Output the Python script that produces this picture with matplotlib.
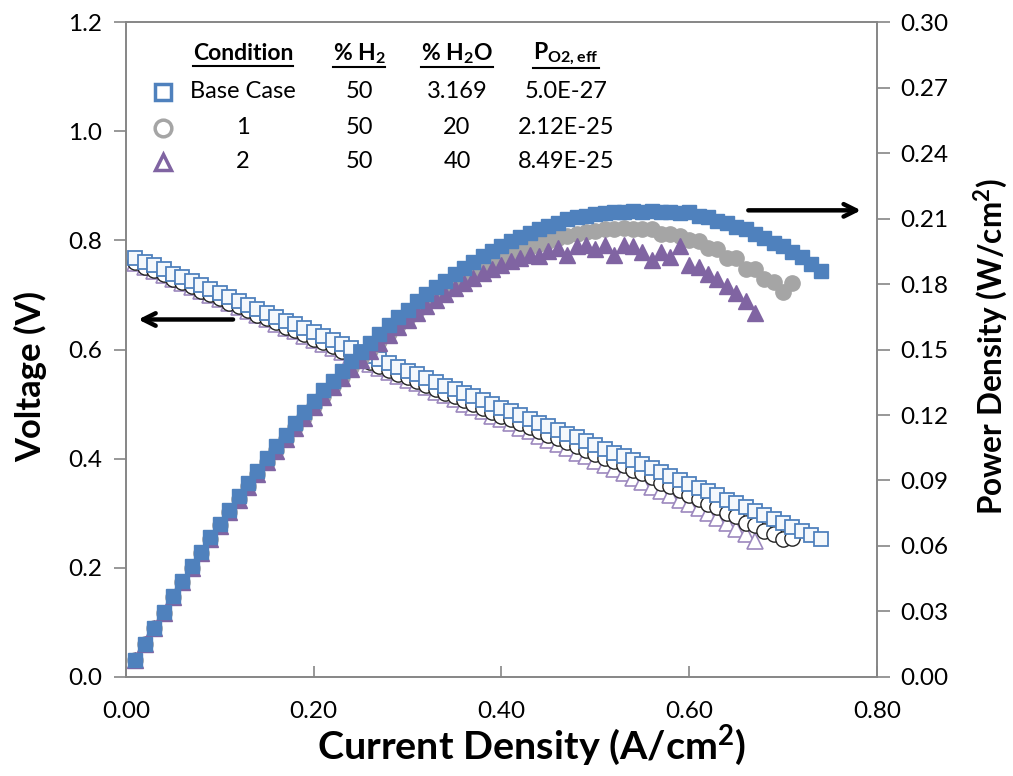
import matplotlib
matplotlib.use("Agg")
import matplotlib.pyplot as plt
from matplotlib.lines import Line2D

plt.rcParams['font.family'] = ['Lato', 'DejaVu Sans']
plt.rcParams['mathtext.fontset'] = 'custom'
plt.rcParams['mathtext.rm'] = 'Lato'
plt.rcParams['mathtext.bf'] = 'Lato:bold'

# current density (A/cm2), one value per measured point
current = [0.01, 0.02, 0.03, 0.04, 0.05, 0.06, 0.07, 0.08, 0.09, 0.10,
           0.11, 0.12, 0.13, 0.14, 0.15, 0.16, 0.17, 0.18, 0.19, 0.20,
           0.21, 0.22, 0.23, 0.24, 0.25, 0.26, 0.27, 0.28, 0.29, 0.30,
           0.31, 0.32, 0.33, 0.34, 0.35, 0.36, 0.37, 0.38, 0.39, 0.40,
           0.41, 0.42, 0.43, 0.44, 0.45, 0.46, 0.47, 0.48, 0.49, 0.50,
           0.51, 0.52, 0.53, 0.54, 0.55, 0.56, 0.57, 0.58, 0.59, 0.60,
           0.61, 0.62, 0.63, 0.64, 0.65, 0.66, 0.67, 0.68, 0.69, 0.70,
           0.71, 0.72, 0.73, 0.74]

# Base case
v_base = [0.768, 0.761, 0.754, 0.747, 0.739, 0.732, 0.725, 0.718, 0.711, 0.703,
          0.696, 0.689, 0.682, 0.675, 0.667, 0.660, 0.653, 0.646, 0.639, 0.632,
          0.625, 0.617, 0.610, 0.603, 0.596, 0.589, 0.582, 0.575, 0.568, 0.561,
          0.555, 0.548, 0.541, 0.534, 0.527, 0.520, 0.514, 0.507, 0.500, 0.493,
          0.487, 0.480, 0.473, 0.466, 0.459, 0.452, 0.446, 0.439, 0.432, 0.425,
          0.418, 0.411, 0.404, 0.397, 0.390, 0.383, 0.376, 0.369, 0.361, 0.354,
          0.347, 0.340, 0.333, 0.325, 0.318, 0.311, 0.304, 0.296, 0.289, 0.282,
          0.275, 0.267, 0.260, 0.252]
p_base = [0.0077, 0.0152, 0.0226, 0.0299, 0.0370, 0.0439, 0.0508, 0.0574, 0.0640, 0.0703,
          0.0766, 0.0827, 0.0887, 0.0945, 0.1001, 0.1056, 0.1110, 0.1163, 0.1214, 0.1264,
          0.1313, 0.1357, 0.1403, 0.1447, 0.1490, 0.1531, 0.1571, 0.1610, 0.1647, 0.1683,
          0.1721, 0.1754, 0.1785, 0.1816, 0.1845, 0.1872, 0.1902, 0.1927, 0.1950, 0.1972,
          0.1997, 0.2016, 0.2034, 0.2050, 0.2066, 0.2079, 0.2096, 0.2107, 0.2112, 0.2120,
          0.2125, 0.2130, 0.2128, 0.2134, 0.2131, 0.2133, 0.2128, 0.2131, 0.2124, 0.2128,
          0.2112, 0.2108, 0.2090, 0.2080, 0.2062, 0.2053, 0.2030, 0.2013, 0.1990, 0.1974,
          0.1945, 0.1922, 0.1890, 0.1860]

# Condition 1
v_c1 = [0.760, 0.752, 0.745, 0.738, 0.730, 0.723, 0.716, 0.708, 0.701, 0.694,
        0.686, 0.679, 0.672, 0.664, 0.657, 0.650, 0.642, 0.635, 0.628, 0.620,
        0.613, 0.606, 0.598, 0.591, 0.584, 0.577, 0.570, 0.563, 0.556, 0.549,
        0.542, 0.535, 0.528, 0.521, 0.514, 0.507, 0.500, 0.493, 0.486, 0.479,
        0.472, 0.465, 0.458, 0.451, 0.444, 0.437, 0.430, 0.423, 0.416, 0.409,
        0.402, 0.395, 0.388, 0.380, 0.373, 0.366, 0.356, 0.350, 0.342, 0.333,
        0.327, 0.317, 0.311, 0.300, 0.295, 0.283, 0.279, 0.268, 0.262, 0.252,
        0.254]
p_c1 = [0.0076, 0.0150, 0.0224, 0.0295, 0.0365, 0.0434, 0.0501, 0.0566, 0.0631, 0.0694,
        0.0755, 0.0815, 0.0874, 0.0930, 0.0986, 0.1040, 0.1091, 0.1143, 0.1193, 0.1240,
        0.1287, 0.1333, 0.1375, 0.1418, 0.1460, 0.1500, 0.1539, 0.1576, 0.1612, 0.1647,
        0.1680, 0.1712, 0.1742, 0.1771, 0.1799, 0.1825, 0.1850, 0.1873, 0.1895, 0.1916,
        0.1935, 0.1953, 0.1969, 0.1984, 0.1998, 0.2010, 0.2021, 0.2030, 0.2038, 0.2045,
        0.2050, 0.2054, 0.2056, 0.2052, 0.2052, 0.2050, 0.2029, 0.2030, 0.2018, 0.2000,
        0.1995, 0.1965, 0.1960, 0.1920, 0.1918, 0.1868, 0.1870, 0.1822, 0.1808, 0.1764,
        0.1803]

# Condition 2
v_c2 = [0.758, 0.751, 0.744, 0.737, 0.729, 0.721, 0.714, 0.707, 0.700, 0.692,
        0.685, 0.677, 0.670, 0.663, 0.655, 0.647, 0.640, 0.633, 0.625, 0.618,
        0.611, 0.603, 0.596, 0.588, 0.581, 0.574, 0.567, 0.559, 0.552, 0.545,
        0.538, 0.531, 0.523, 0.516, 0.509, 0.501, 0.494, 0.487, 0.479, 0.472,
        0.465, 0.457, 0.450, 0.442, 0.434, 0.427, 0.419, 0.411, 0.404, 0.396,
        0.388, 0.381, 0.373, 0.365, 0.357, 0.349, 0.341, 0.333, 0.325, 0.317,
        0.309, 0.300, 0.291, 0.282, 0.272, 0.262, 0.250]
p_c2 = [0.0076, 0.0150, 0.0223, 0.0295, 0.0365, 0.0433, 0.0500, 0.0566, 0.0630, 0.0692,
        0.0754, 0.0812, 0.0871, 0.0928, 0.0983, 0.1035, 0.1088, 0.1139, 0.1188, 0.1236,
        0.1283, 0.1327, 0.1371, 0.1411, 0.1453, 0.1492, 0.1531, 0.1565, 0.1601, 0.1635,
        0.1668, 0.1699, 0.1726, 0.1754, 0.1782, 0.1804, 0.1828, 0.1851, 0.1868, 0.1888,
        0.1907, 0.1919, 0.1935, 0.1930, 0.1953, 0.1964, 0.1935, 0.1973, 0.1980, 0.1960,
        0.1979, 0.1935, 0.1977, 0.1975, 0.1945, 0.1910, 0.1945, 0.1925, 0.1975, 0.1885,
        0.1880, 0.1845, 0.1825, 0.1790, 0.1760, 0.1720, 0.1665]

conditions = ['Base Case', '1', '2']
pct_h2 = ['50', '50', '50']
pct_h2o = ['3.169', '20', '40']
po2_eff = ['5.0E-27', '2.12E-25', '8.49E-25']

blue = '#4F81BD'
gray = '#A5A5A5'
purple = '#8064A2'
spine_col = '#868686'

W, H = 1013, 776
fig = plt.figure(figsize=(10.13, 7.76), dpi=100)
ax = fig.add_axes([0.1244, 0.1276, 0.7413, 0.844])
ax2 = ax.twinx()

n0 = len(v_base)
n1 = len(v_c1)
n2 = len(v_c2)

# voltage curves (open markers)
ax.plot(current[:n2], v_c2, ls='none', marker='^', ms=11, mfc='white', mec='#9C88BE', mew=1.2)
ax.plot(current[:n1], v_c1, ls='none', marker='o', ms=11, mfc='white', mec='#222222', mew=1.0)
ax.plot(current[:n0], v_base, ls='none', marker='s', ms=10.5, mfc='#F4F8FC', mec=blue, mew=1.3)

# power curves (filled markers)
ax2.plot(current[:n1], p_c1, ls='none', marker='o', ms=11, color=gray)
ax2.plot(current[:n2], p_c2, ls='none', marker='^', ms=12, color=purple)
ax2.plot(current[:n0], p_base, ls='none', marker='s', ms=10.5, color=blue)

ax.set_xlim(0, 0.8)
ax.set_ylim(0, 1.2)
ax2.set_ylim(0, 0.30)
ax.set_xticks([0, 0.2, 0.4, 0.6, 0.8])
ax.set_xticklabels(['0.00', '0.20', '0.40', '0.60', '0.80'])
ax.set_yticks([0, 0.2, 0.4, 0.6, 0.8, 1.0, 1.2])
ax.set_yticklabels(['0.0', '0.2', '0.4', '0.6', '0.8', '1.0', '1.2'])
ax2.set_yticks([0, 0.03, 0.06, 0.09, 0.12, 0.15, 0.18, 0.21, 0.24, 0.27, 0.30])
ax2.set_yticklabels(['0.00', '0.03', '0.06', '0.09', '0.12', '0.15', '0.18',
                     '0.21', '0.24', '0.27', '0.30'])

for a in (ax, ax2):
    for s in a.spines.values():
        s.set_color(spine_col)
        s.set_linewidth(1.2)
ax.tick_params(axis='y', direction='out', length=9, width=1.2, color=spine_col,
               labelsize=17.5, pad=8)
ax.tick_params(axis='x', direction='in', length=8, width=1.2, color=spine_col,
               labelsize=17.5, pad=17)
ax2.tick_params(axis='y', direction='out', length=9, width=1.2, color=spine_col,
                labelsize=17.5, pad=8)

xl = ax.set_xlabel('Current Density (A/cm$^\\mathregular{2}$)', fontsize=24, fontweight='bold',
                   ha='center', va='center')
yl = ax.set_ylabel('Voltage (V)', fontsize=24, fontweight='bold', ha='center', va='center')
yl2 = ax2.set_ylabel('Power Density (W/cm$^\\mathregular{2}$)', fontsize=24, fontweight='bold',
                     ha='center', va='center')
ax.xaxis.set_label_coords((532 - 126) / 751, (677 - 746) / 655)
ax.yaxis.set_label_coords((31 - 126) / 751, (677 - 376) / 655)
ax2.yaxis.set_label_coords((991 - 126) / 751, (677 - 347) / 655)

# arrows pointing to the axes
ax.annotate('', xy=(0.01, 0.655), xytext=(0.117, 0.655),
            arrowprops=dict(arrowstyle='->,head_length=0.9,head_width=0.45', lw=3.2, color='black'))
ax.annotate('', xy=(0.786, 0.855), xytext=(0.66, 0.855),
            arrowprops=dict(arrowstyle='->,head_length=0.9,head_width=0.45', lw=3.2, color='black'))

# legend drawn as a small table
col_x = [243, 359, 457, 566]
header_y = 54
row_y = [92, 128, 162]


def fx(px):
    return px / W


def fy(py):
    return 1 - py / H


headers = ['Condition', '% H$_\\mathregular{2}$', '% H$_\\mathregular{2}$O', 'P$_\\mathregular{O2,eff}$']
htexts = []
for x, h in zip(col_x, headers):
    htexts.append(fig.text(fx(x), fy(header_y), h, ha='center', va='center',
                           fontsize=16.5, fontweight='bold'))

columns = [conditions, pct_h2, pct_h2o, po2_eff]
for x, col in zip(col_x, columns):
    for y, val in zip(row_y, col):
        fig.text(fx(x), fy(y), val, ha='center', va='center', fontsize=17)

legend_marks = [('s', blue), ('o', gray), ('^', purple)]
for y, (m, c) in zip(row_y, legend_marks):
    fig.add_artist(Line2D([fx(163)], [fy(y)], ls='none', marker=m, ms=12,
                          mfc='white', mec=c, mew=2.5, transform=fig.transFigure))

# scale the axis titles to the extent they take in the original
fig.canvas.draw()
r = fig.canvas.get_renderer()
for t, target, dim in [(xl, 430, 'w'), (yl, 172, 'h'), (yl2, 338, 'h')]:
    bb = t.get_window_extent(r)
    cur = bb.width if dim == 'w' else bb.height
    t.set_fontsize(t.get_fontsize() * target / cur)

fig.canvas.draw()
for t in htexts:
    bb = t.get_window_extent()
    fig.add_artist(Line2D([bb.x0 / W, bb.x1 / W], [(bb.y0 - 1) / H] * 2,
                          color='black', lw=1.5, transform=fig.transFigure))

fig.savefig('out.png', dpi=100)
